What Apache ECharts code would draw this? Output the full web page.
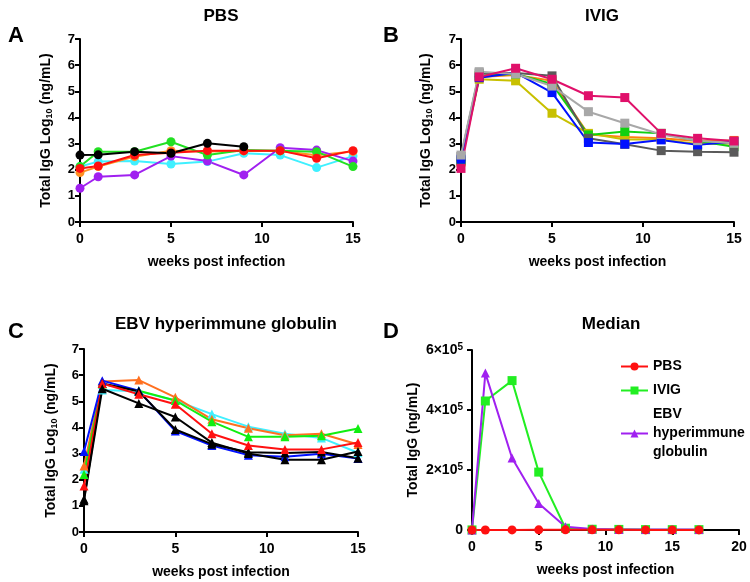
<html>
<head>
    <meta charset="utf-8">
    <script src="https://cdn.jsdelivr.net/npm/echarts@6/dist/echarts.min.js"></script>
</head>
<body style="margin:0">
<div id="main" style="width:750px;height:582px"></div>
<script>
    // weeks sampled in panels A-C and D
    var weeks = [0, 1, 3, 5, 7, 9, 11, 13, 15];
    var weeksMedian = [0, 1, 3, 5, 7, 9, 11, 13, 15, 17];

    // A: PBS (log10 ng/mL)
    var pbsCyan = [2.12, 2.31, 2.33, 2.22, 2.31, 2.63, 2.56, 2.08, 2.52];
    var pbsOrange = [1.89, 2.12, 2.50, 2.73, 2.70, 2.72, 2.72, 2.55, 2.70];
    var pbsPurple = [1.29, 1.73, 1.80, 2.52, 2.33, 1.80, 2.84, 2.75, 2.33];
    var pbsGreen = [2.12, 2.69, 2.69, 3.07, 2.56, 2.75, 2.73, 2.69, 2.12];
    var pbsRed = [2.05, 2.14, 2.56, 2.65, 2.73, 2.73, 2.73, 2.44, 2.73];
    var pbsBlack = [2.56, 2.57, 2.69, 2.63, 3.01, 2.88];

    // B: IVIG
    var ivigOrange = [2.30, 5.55, 5.62, 5.40, 3.35, 3.25, 3.20, 3.10, 3.12];
    var ivigYellow = [2.30, 5.46, 5.40, 4.16, 3.39, 3.16, 3.16, 2.98, 3.00];
    var ivigGreen = [2.35, 5.60, 5.66, 5.28, 3.33, 3.46, 3.39, 3.10, 2.88];
    var ivigDark = [2.50, 5.70, 5.70, 5.59, 3.20, 2.97, 2.73, 2.69, 2.67];
    var ivigBlue = [2.40, 5.52, 5.71, 4.95, 3.04, 2.98, 3.14, 2.95, 3.07];
    var ivigLight = [2.56, 5.75, 5.66, 5.20, 4.22, 3.78, 3.35, 3.11, 3.01];
    var ivigCrimson = [2.05, 5.55, 5.88, 5.46, 4.83, 4.76, 3.39, 3.20, 3.10];

    // C: EBV hyperimmune globulin
    var ebvCyan = [2.40, 5.43, 5.38, 5.03, 4.51, 4.03, 3.76, 3.60, 3.03];
    var ebvOrange = [2.52, 5.76, 5.81, 5.15, 4.31, 3.97, 3.70, 3.76, 3.35];
    var ebvGreen = [2.20, 5.66, 5.40, 5.03, 4.22, 3.64, 3.64, 3.68, 3.96];
    var ebvBlue = [3.08, 5.79, 5.40, 3.86, 3.31, 2.94, 2.88, 2.99, 2.81];
    var ebvBlack2 = [1.25, 5.68, 5.38, 3.92, 3.36, 3.05, 3.02, 3.06, 2.82];
    var ebvRed = [1.76, 5.68, 5.27, 4.89, 3.76, 3.31, 3.16, 3.16, 3.42];
    var ebvBlack1 = [1.20, 5.48, 4.92, 4.40, 3.42, 3.00, 2.76, 2.76, 3.08];

    // D: medians (ng/mL)
    var medPbs = [130, 140, 360, 450, 490, 540, 540, 360, 330, 400];
    var medIvig = [300, 430000, 498000, 193000, 6000, 2500, 2000, 1300, 1200, 1200];
    var medEbv = [300, 523000, 240000, 88000, 11000, 3500, 2000, 1500, 1300, 1300];

    var FONT = '"Liberation Sans", Arial, sans-serif';

    function pairs(xs, ys) {
        var out = [];
        for (var i = 0; i < ys.length; i++) {
            out.push([xs[i], ys[i]]);
        }
        return out;
    }

    var chart = echarts.init(document.getElementById('main'));

    var grids = [
        {left: 80, top: 39, width: 273, height: 183},
        {left: 461, top: 39, width: 273, height: 183},
        {left: 84, top: 349, width: 274, height: 183},
        {left: 472, top: 350, width: 267, height: 180}
    ];

    var axisLine = {lineStyle: {color: '#000', width: 2}};
    var axisTick = {length: 5, lineStyle: {color: '#000', width: 2}};
    var nameStyle = {color: '#000', fontFamily: FONT, fontWeight: 'bold', fontSize: 14};

    var logName = '{a|Total IgG Log}{b|10}{a| (ng/mL)}';
    var logRich = {
        a: {fontFamily: FONT, fontWeight: 'bold', fontSize: 14, color: '#000'},
        b: {fontFamily: FONT, fontWeight: 'bold', fontSize: 9, color: '#000', verticalAlign: 'bottom', padding: [6, 0, 0, 0]}
    };

    var xAxes = [];
    var yAxes = [];
    var yGaps = [26, 27, 25, 52];
    for (var g = 0; g < 4; g++) {
        xAxes.push({
            gridIndex: g,
            type: 'value',
            min: 0,
            max: g === 3 ? 20 : 15,
            interval: 5,
            name: 'weeks post infection',
            nameLocation: 'middle',
            nameGap: 33,
            nameTextStyle: nameStyle,
            axisLine: axisLine,
            axisTick: axisTick,
            axisLabel: {color: '#000', fontFamily: FONT, fontWeight: 'bold', fontSize: 14, margin: 10},
            splitLine: {show: false}
        });
        if (g < 3) {
            yAxes.push({
                gridIndex: g,
                type: 'value',
                min: 0,
                max: 7,
                interval: 1,
                name: logName,
                nameLocation: 'middle',
                nameGap: yGaps[g],
                nameTextStyle: {rich: logRich},
                axisLine: axisLine,
                axisTick: axisTick,
                axisLabel: {color: '#000', fontFamily: FONT, fontWeight: 'bold', fontSize: 13, margin: 5},
                splitLine: {show: false}
            });
        } else {
            yAxes.push({
                gridIndex: g,
                type: 'value',
                min: 0,
                max: 600000,
                interval: 200000,
                name: 'Total IgG (ng/mL)',
                nameLocation: 'middle',
                nameGap: yGaps[g],
                nameTextStyle: nameStyle,
                axisLine: axisLine,
                axisTick: axisTick,
                axisLabel: {
                    margin: 9,
                    formatter: function (v) {
                        return v === 0 ? '{m|0}' : '{m|' + (v / 100000) + '×10}{s|5}';
                    },
                    rich: {
                        m: {fontFamily: FONT, fontWeight: 'bold', fontSize: 14, color: '#000'},
                        s: {fontFamily: FONT, fontWeight: 'bold', fontSize: 10, color: '#000', verticalAlign: 'top', padding: [0, 0, 6, 0]}
                    }
                },
                splitLine: {show: false}
            });
        }
    }

    function line(name, g, xs, ys, color, symbol, size) {
        return {
            name: name,
            type: 'line',
            xAxisIndex: g,
            yAxisIndex: g,
            data: pairs(xs, ys),
            symbol: symbol,
            symbolSize: size,
            showAllSymbol: true,
            lineStyle: {color: color, width: 2},
            itemStyle: {color: color, borderWidth: 0},
            emphasis: {disabled: true},
            animation: false
        };
    }

    var series = [
        line('a1', 0, weeks, pbsCyan, '#3ff0ff', 'circle', 9),
        line('a2', 0, weeks, pbsOrange, '#ff9020', 'circle', 9),
        line('a3', 0, weeks, pbsPurple, '#a020f0', 'circle', 9),
        line('a4', 0, weeks, pbsGreen, '#22e022', 'circle', 9),
        line('a5', 0, weeks, pbsRed, '#ff1010', 'circle', 9),
        line('a6', 0, weeks, pbsBlack, '#000000', 'circle', 9),

        line('b1', 1, weeks, ivigOrange, '#ff7f10', 'rect', 9),
        line('b2', 1, weeks, ivigYellow, '#c8c000', 'rect', 9),
        line('b3', 1, weeks, ivigGreen, '#10d010', 'rect', 9),
        line('b4', 1, weeks, ivigDark, '#5a5a5a', 'rect', 9),
        line('b5', 1, weeks, ivigBlue, '#0010ff', 'rect', 9),
        line('b6', 1, weeks, ivigLight, '#a8a8a8', 'rect', 9),
        line('b7', 1, weeks, ivigCrimson, '#e0106a', 'rect', 9),

        line('c1', 2, weeks, ebvCyan, '#40f0ff', 'triangle', 9),
        line('c2', 2, weeks, ebvOrange, '#ff7020', 'triangle', 9),
        line('c3', 2, weeks, ebvGreen, '#10ee10', 'triangle', 9),
        line('c4', 2, weeks, ebvBlue, '#0010ff', 'triangle', 9),
        line('c5', 2, weeks, ebvBlack2, '#000000', 'triangle', 9),
        line('c6', 2, weeks, ebvRed, '#ff1010', 'triangle', 9),
        line('c7', 2, weeks, ebvBlack1, '#000000', 'triangle', 9),

        line('IVIG', 3, weeksMedian, medIvig, '#22ee22', 'rect', 9),
        line('EBV hyperimmune globulin', 3, weeksMedian, medEbv, '#a020f0', 'triangle', 9),
        line('PBS', 3, weeksMedian, medPbs, '#ff1010', 'circle', 9)
    ];

    var titleStyle = {color: '#000', fontFamily: FONT, fontWeight: 'bold', fontSize: 17};
    var letterStyle = {color: '#000', fontFamily: FONT, fontWeight: 'bold', fontSize: 22};

    var option = {
        backgroundColor: '#fff',
        animation: false,
        title: [
            {text: 'PBS', left: 216, top: 3, textAlign: 'center', textStyle: titleStyle},
            {text: 'IVIG', left: 597, top: 3, textAlign: 'center', textStyle: titleStyle},
            {text: 'EBV hyperimmune globulin', left: 221, top: 311, textAlign: 'center', textStyle: titleStyle},
            {text: 'Median', left: 606, top: 311, textAlign: 'center', textStyle: titleStyle},
            {text: 'A', left: 3, top: 20, textStyle: letterStyle},
            {text: 'B', left: 378, top: 20, textStyle: letterStyle},
            {text: 'C', left: 3, top: 316, textStyle: letterStyle},
            {text: 'D', left: 378, top: 316, textStyle: letterStyle}
        ],
        legend: {
            data: ['PBS', 'IVIG', 'EBV hyperimmune globulin'],
            orient: 'vertical',
            left: 620,
            top: 357,
            padding: 0,
            itemWidth: 27,
            itemHeight: 10,
            itemGap: 5,
            selectedMode: false,
            formatter: function (name) {
                return name === 'EBV hyperimmune globulin' ? 'EBV\nhyperimmune\nglobulin' : name;
            },
            textStyle: {color: '#000', fontFamily: FONT, fontWeight: 'bold', fontSize: 14, lineHeight: 19}
        },
        grid: grids,
        xAxis: xAxes,
        yAxis: yAxes,
        series: series
    };

    chart.setOption(option);
</script>
</body>
</html>
